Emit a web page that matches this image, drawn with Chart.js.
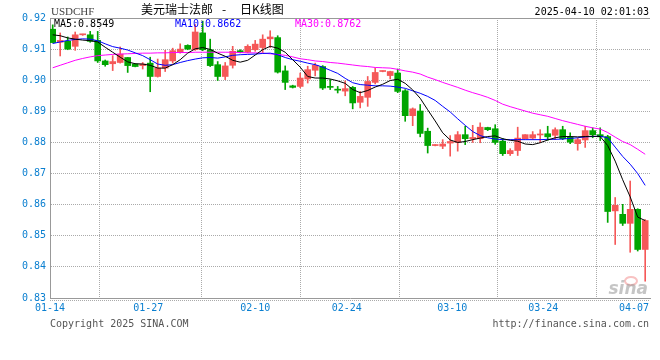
<!DOCTYPE html>
<html><head><meta charset="utf-8">
<script src="https://cdn.jsdelivr.net/npm/chart.js@4/dist/chart.umd.min.js"></script>
<style>html,body{margin:0;padding:0;background:#fff}canvas{display:block}</style>
</head><body>
<canvas id="c" width="660" height="360"></canvas>
<script>
// ---- data ----
const openP = [.9164,.9122,.9125,.9109,.9146,.9146,.9128,.9062,.9053,.9057,
  .9073,.9052,.9047,.9055,.9012,.9039,.9062,.9090,.9112,.9098,
  .9152,.9098,.9050,.9012,.9048,.9095,.9090,.9098,.9105,.9133,
  .9137,.9030,.8982,.8980,.9004,.9032,.9044,.8980,.8970,.8965,
  .8977,.8929,.8945,.8993,.9028,.9015,.9023,.8966,.8886,.8901,
  .8836,.8790,.8788,.8798,.8800,.8825,.8812,.8812,.8848,.8844,
  .8804,.8764,.8774,.8812,.8814,.8824,.8828,.8823,.8841,.8817,
  .8796,.8808,.8838,.8825,.8819,.8580,.8569,.8540,.8585,.8456];
const highP = [.9178,.9152,.9139,.9155,.9148,.9157,.9157,.9065,.9079,.9107,
  .9073,.9053,.9057,.9074,.9068,.9096,.9103,.9117,.9114,.9179,
  .9190,.9132,.9060,.9057,.9109,.9098,.9114,.9128,.9146,.9159,
  .9143,.9046,.8984,.9023,.9045,.9055,.9047,.9002,.8980,.8998,
  .8980,.8964,.9012,.9039,.9030,.9029,.9036,.8970,.8911,.8922,
  .8846,.8793,.8809,.8822,.8835,.8852,.8855,.8863,.8849,.8857,
  .8813,.8780,.8849,.8825,.8835,.8841,.8852,.8847,.8852,.8831,
  .8814,.8852,.8847,.8847,.8823,.8623,.8601,.8676,.8587,.8552];
const lowP = [.9120,.9078,.9098,.9096,.9144,.9122,.9057,.9045,.9031,.9055,
  .9025,.9043,.9036,.8963,.9010,.9028,.9055,.9087,.9098,.9096,
  .9095,.9044,.8999,.9002,.9039,.9088,.9088,.9093,.9089,.9105,
  .9023,.8970,.8975,.8976,.8991,.9014,.8970,.8970,.8959,.8950,
  .8908,.8911,.8916,.8988,.9027,.9004,.8960,.8868,.8854,.8818,
  .8766,.8789,.8780,.8756,.8772,.8793,.8800,.8799,.8838,.8794,
  .8758,.8758,.8758,.8811,.8809,.8800,.8807,.8809,.8809,.8796,
  .8775,.8784,.8815,.8806,.8543,.8472,.8533,.8447,.8451,.8354];
const closeP = [.9121,.9128,.9100,.9146,.9147,.9125,.9062,.9050,.9060,.9084,
  .9047,.9044,.9052,.9012,.9039,.9066,.9095,.9100,.9100,.9155,
  .9098,.9047,.9012,.9046,.9093,.9090,.9109,.9116,.9132,.9139,
  .9026,.8993,.8977,.9007,.9034,.9048,.8975,.8977,.8968,.8973,
  .8927,.8948,.8996,.9025,.9029,.9028,.8964,.8886,.8908,.8829,
  .8790,.8791,.8795,.8803,.8825,.8812,.8816,.8849,.8841,.8800,
  .8764,.8774,.8814,.8825,.8825,.8826,.8818,.8841,.8812,.8801,
  .8809,.8838,.8825,.8818,.8578,.8598,.8540,.8585,.8456,.8549];
const ma5 = [.9146,.9143,.9136,.9132,.9129,.9127,.9123,.9106,.9090,.9074,
  .9059,.9053,.9052,.9048,.9039,.9039,.9050,.9066,.9087,.9101,
  .9105,.9099,.9087,.9077,.9064,.9058,.9064,.9081,.9098,.9109,
  .9103,.9090,.9066,.9042,.9012,.9007,.9007,.9004,.8998,.8990,
  .8970,.8960,.8967,.8978,.8987,.8999,.9003,.8990,.8969,.8942,
  .8905,.8869,.8831,.8808,.8800,.8803,.8809,.8814,.8819,.8821,
  .8812,.8807,.8804,.8795,.8793,.8799,.8808,.8815,.8819,.8819,
  .8818,.8819,.8820,.8819,.8790,.8740,.8680,.8625,.8560,.8549];
const ma10 = [.9118,.9123,.9128,.9131,.9133,.9132,.9127,.9117,.9108,.9103,
  .9097,.9088,.9079,.9066,.9052,.9048,.9050,.9057,.9063,.9068,
  .9072,.9073,.9071,.9075,.9080,.9082,.9083,.9084,.9086,.9087,
  .9082,.9073,.9066,.9061,.9055,.9050,.9042,.9032,.9022,.9006,
  .8992,.8986,.8984,.8982,.8982,.8981,.8978,.8974,.8966,.8958,
  .8948,.8935,.8916,.8898,.8876,.8855,.8835,.8822,.8815,.8811,
  .8809,.8809,.8809,.8809,.8809,.8809,.8810,.8810,.8811,.8813,
  .8815,.8818,.8819,.8820,.8815,.8785,.8755,.8730,.8700,.8662];
const ma30 = [.9040,.9048,.9056,.9064,.9070,.9075,.9079,.9081,.9083,.9084,
  .9085,.9086,.9087,.9087,.9088,.9088,.9089,.9089,.9089,.9090,
  .9090,.9090,.9090,.9090,.9090,.9089,.9088,.9088,.9087,.9085,
  .9083,.9080,.9075,.9069,.9066,.9062,.9060,.9057,.9055,.9052,
  .9049,.9046,.9044,.9041,.9040,.9039,.9035,.9030,.9026,.9020,
  .9010,.9002,.8993,.8985,.8977,.8968,.8960,.8953,.8945,.8935,
  .8923,.8915,.8908,.8901,.8894,.8889,.8884,.8877,.8870,.8864,
  .8858,.8852,.8847,.8843,.8832,.8817,.8803,.8793,.8778,.8762];
const tickAt = [-0.36, 12.75, 27.01, 39.2, 53.28, 65.4, 79.64];
const tickLabels = ['01-14','01-27','02-10','02-24','03-10','03-24','04-07'];

// ---- styles ----
const UP = 'rgb(245,88,88)', DOWN = 'rgb(0,165,0)';
const LBL = '#0a7fd0';
const MONO = '"DejaVu Sans Mono", "Liberation Mono", monospace';
const colors = openP.map((o,i) => closeP[i] >= o ? UP : DOWN);

const deco = {
  id: 'deco',
  afterDraw(chart) {
    const {ctx, chartArea: a, scales: {x}} = chart;
    ctx.save();
    ctx.strokeStyle = '#999'; ctx.lineWidth = 1;
    ctx.beginPath();
    ctx.moveTo(a.left, Math.floor(a.top) + 0.5);
    ctx.lineTo(a.right, Math.floor(a.top) + 0.5);
    ctx.stroke();
    ctx.setLineDash([1,1]); ctx.strokeStyle = '#aaa';
    ctx.beginPath();
    ctx.moveTo(a.left, Math.floor(a.bottom) + 2.5);
    ctx.lineTo(a.right, Math.floor(a.bottom) + 2.5);
    ctx.stroke();
    ctx.setLineDash([]);
    ctx.font = '10px ' + MONO; ctx.fillStyle = LBL; ctx.textBaseline = 'middle';
    tickAt.forEach((v,k) => {
      const px = x.getPixelForValue(v);
      if (k === tickAt.length - 1) { ctx.textAlign = 'right'; ctx.fillText(tickLabels[k], 649, 308); }
      else { ctx.textAlign = 'center'; ctx.fillText(tickLabels[k], px, 308); }
    });
    ctx.textAlign = 'left'; ctx.fillStyle = '#444';
    ctx.font = '11px "Liberation Serif", serif';
    ctx.fillText('USDCHF', 51, 12);
    ctx.fillStyle = '#000';
    ctx.font = '12px "Noto Sans CJK SC", sans-serif';
    ctx.fillText('美元瑞士法郎', 141, 9);
    ctx.fillText('-', 222, 9);
    ctx.fillText('日K线图', 240, 9);
    ctx.font = '10px ' + MONO; ctx.textAlign = 'right';
    ctx.fillText('2025-04-10 02:01:03', 649, 12);
    ctx.textAlign = 'left';
    ctx.fillStyle = '#000'; ctx.fillText('MA5:' + ma5[ma5.length-1].toFixed(4), 54, 24);
    ctx.fillStyle = '#0000ff'; ctx.fillText('MA10:' + ma10[ma10.length-1].toFixed(4), 175, 24);
    ctx.fillStyle = '#ff00ff'; ctx.fillText('MA30:' + ma30[ma30.length-1].toFixed(4), 295, 24);
    ctx.fillStyle = '#555';
    ctx.fillText('Copyright 2025 SINA.COM', 50, 324);
    ctx.textAlign = 'right';
    ctx.fillText('http://finance.sina.com.cn', 649, 324);
    ctx.strokeStyle = 'rgba(240,120,120,0.45)'; ctx.lineWidth = 2;
    ctx.beginPath(); ctx.ellipse(631, 281, 6, 4, 0, 0, Math.PI*2); ctx.stroke();
    ctx.fillStyle = 'rgba(150,150,150,0.55)';
    ctx.font = 'italic bold 17px "DejaVu Sans", sans-serif';
    ctx.textAlign = 'right'; ctx.textBaseline = 'alphabetic';
    ctx.fillText('sina', 648, 294);
    ctx.restore();
  }
};

new Chart(document.getElementById('c'), {
  type: 'bar',
  data: {
    datasets: [
      { type:'line', data: ma5.map((v,i)=>({x:i,y:v})), borderColor:'#000', borderWidth:1, pointRadius:0, tension:0, fill:false },
      { type:'line', data: ma10.map((v,i)=>({x:i,y:v})), borderColor:'#0000ff', borderWidth:1, pointRadius:0, tension:0, fill:false },
      { type:'line', data: ma30.map((v,i)=>({x:i,y:v})), borderColor:'#ff00ff', borderWidth:1, pointRadius:0, tension:0, fill:false },
      { data: openP.map((o,i)=>({x:i,y:[o,closeP[i]]})), backgroundColor: colors, borderWidth:0,
        barThickness:6, minBarLength:1, grouped:false },
      { data: lowP.map((l,i)=>({x:i,y:[l,highP[i]]})), backgroundColor: colors, borderWidth:0,
        barThickness:1, grouped:false }
    ]
  },
  options: {
    responsive:false, animation:false, devicePixelRatio:1,
    layout:{ padding:{ top:18, left:0, right:10, bottom:62 } },
    plugins:{ legend:{display:false}, tooltip:{enabled:false} },
    scales:{
      x:{ type:'linear', min:tickAt[0], max:tickAt[tickAt.length-1], offset:false,
        afterBuildTicks: s => { s.ticks = tickAt.map(v=>({value:v})); },
        afterFit: s => { s.height = 0; },
        ticks:{ display:false },
        grid:{ color:'#aaa', drawTicks:false },
        border:{ display:true, color:'#999', width:1, dash:[1,1] } },
      y:{ min:0.83, max:0.92,
        afterBuildTicks: s => { const t=[]; for(let k=0;k<=9;k++) t.push({value: +(0.83+k*0.01).toFixed(2)}); s.ticks=t; },
        afterFit: s => { s.width = 50; },
        ticks:{ color:LBL, font:{ family:MONO, size:10 }, padding:4, callback: v => (+v).toFixed(2) },
        grid:{ color:'#aaa', drawTicks:false },
        border:{ display:true, color:'#999', width:1, dash:[1,1] } }
    }
  },
  plugins:[deco]
});
</script>
</body></html>
